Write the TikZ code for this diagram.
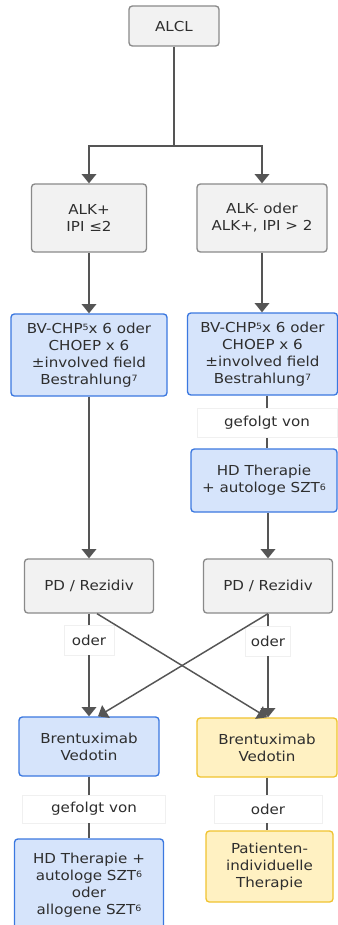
\documentclass[tikz,border=0pt]{standalone}
\usepackage{fontspec}
\setmainfont{DejaVu Sans}[FakeStretch=1.1]
\usetikzlibrary{arrows.meta,calc}
\definecolor{linegray}{HTML}{555555}
\definecolor{textgray}{HTML}{2E2E2E}
\definecolor{boxgray}{HTML}{8A8A8A}
\definecolor{fillgray}{HTML}{F2F2F2}
\definecolor{blueline}{HTML}{3B78E0}
\definecolor{bluefill}{HTML}{D6E4FB}
\definecolor{yellowline}{HTML}{F0C330}
\definecolor{yellowfill}{HTML}{FFF1C2}
\newcommand{\fn}[1]{\raisebox{0.35ex}{\fontsize{6.5}{7}\selectfont #1}}
\begin{document}
\begin{tikzpicture}[x=0.75pt,y=-0.75pt,
    font=\fontsize{10.3}{12.75}\selectfont,
    box/.style={draw=boxgray,fill=fillgray,rounded corners=2.5pt,line width=1pt,
      align=center,text=textgray,inner sep=0pt},
    bluebox/.style={box,draw=blueline,fill=bluefill},
    yellowbox/.style={box,draw=yellowline,fill=yellowfill},
    tag/.style={fill=white,draw=gray!12,align=center,text=textgray,inner sep=0pt},
    arr/.style={-{Triangle[width=11pt,length=7pt]},draw=linegray,line width=1.1pt},
    con/.style={draw=linegray,line width=1.1pt}]
  \clip (0,0) rectangle (338,925);
  \fill[white] (0,0) rectangle (338,925);
  % boxes
  \node[box,minimum width=67.5pt,minimum height=30pt] (alcl) at (174,26) {ALCL};
  \node[box,minimum width=86.25pt,minimum height=51pt] (alkA) at (89,218) {ALK+\\IPI ≤2};
  \node[box,minimum width=97.5pt,minimum height=51pt] (alkB) at (262,218) {ALK- oder\\ALK+, IPI > 2};
  \node[bluebox,minimum width=117pt,minimum height=61.5pt] (bvA) at (89,355)
    {BV-CHP\fn{5}x 6 oder\\CHOEP x 6\\±involved field\\Bestrahlung\fn{7}};
  \node[bluebox,minimum width=112.5pt,minimum height=61.5pt] (bvB) at (262.5,354)
    {BV-CHP\fn{5}x 6 oder\\CHOEP x 6\\±involved field\\Bestrahlung\fn{7}};
  \node[tag,minimum width=105pt,minimum height=21.75pt] (gefB) at (267,423) {gefolgt von};
  \node[bluebox,minimum width=109.5pt,minimum height=47.25pt] (hdB) at (264,480.5)
    {HD Therapie\\+ autologe SZT\fn{6}};
  \node[box,minimum width=96.75pt,minimum height=40.5pt] (pdA) at (89,586) {PD / Rezidiv};
  \node[box,minimum width=96.75pt,minimum height=40.5pt] (pdB) at (268,586) {PD / Rezidiv};
  \node[tag,minimum width=37.5pt,minimum height=22.5pt] (oderA) at (89,640) {oder};
  \node[tag,minimum width=34pt,minimum height=22.5pt] (oderB) at (268,641) {oder};
  \node[bluebox,minimum width=105pt,minimum height=44.25pt] (brA) at (89,746.5) {Brentuximab\\Vedotin};
  \node[yellowbox,minimum width=105pt,minimum height=44.25pt] (brB) at (267,747.5) {Brentuximab\\Vedotin};
  \node[tag,minimum width=107pt,minimum height=21pt] (gefA) at (94,809) {gefolgt von};
  \node[tag,minimum width=81pt,minimum height=21pt] (oderC) at (268,809) {oder};
  \node[bluebox,minimum width=111.75pt,minimum height=69pt] (hdA) at (89,885)
    {HD Therapie +\\autologe SZT\fn{6}\\oder\\allogene SZT\fn{6}};
  \node[yellowbox,minimum width=95.25pt,minimum height=53.25pt] (patC) at (269.5,866.5)
    {Patienten-\\individuelle\\Therapie};
  % connectors
  \coordinate (split) at (174,146);
  \draw[con] (alcl.south) -- (split);
  \draw[arr] (split) -| (alkA.north);
  \draw[arr] (split) -| (alkB.north);
  \draw[arr] (alkA.south) -- (bvA.north);
  \draw[arr] (alkB.south) -- (alkB.south |- bvB.north);
  \draw[arr] (bvA.south) -- (pdA.north);
  \draw[con] (gefB |- bvB.south) -- (gefB.north);
  \draw[con] (gefB.south) -- (gefB |- hdB.north);
  \draw[arr] (pdB |- hdB.south) -- (pdB.north);
  \draw[con] (pdA.south) -- (oderA.north);
  \draw[arr] (oderA.south) -- (brA.north);
  \draw[con] (pdB.south) -- (oderB.north);
  \draw[arr] (oderB.south) -- (oderB |- brB.north);
  \draw[arr] ($(pdA.south)+(8,0)$) -- (brB.north);
  \draw[arr] (pdB.south) -- ($(brA.north)+(9,0)$);
  \draw[con] (brA.south) -- (brA.south |- gefA.north);
  \draw[con] (brA.south |- gefA.south) -- (hdA.north);
  \draw[con] (brB.south) -- (brB.south |- oderC.north);
  \draw[con] (brB.south |- oderC.south) -- (brB.south |- patC.north);
\end{tikzpicture}
\end{document}
